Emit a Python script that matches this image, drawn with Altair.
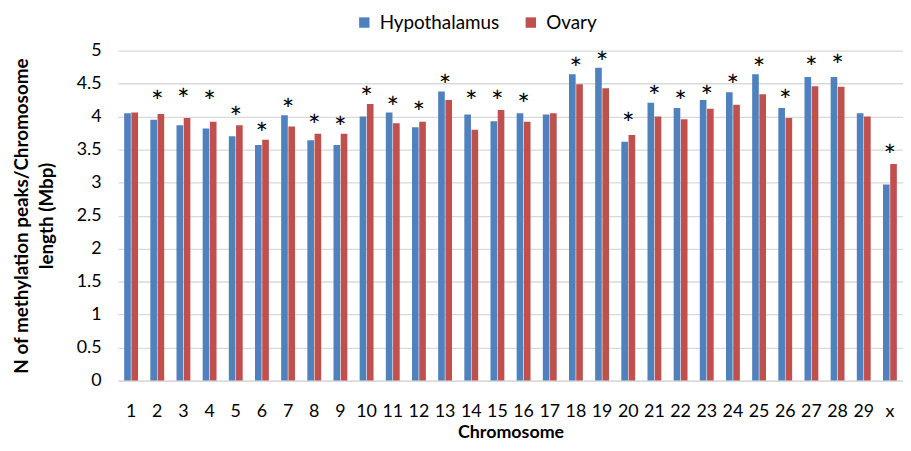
import altair as alt
import pandas as pd

chromosomes = ["1", "2", "3", "4", "5", "6", "7", "8", "9", "10",
               "11", "12", "13", "14", "15", "16", "17", "18", "19", "20",
               "21", "22", "23", "24", "25", "26", "27", "28", "29", "x"]
hypothalamus = [4.05, 3.95, 3.87, 3.82, 3.70, 3.57, 4.02, 3.64, 3.57, 4.00,
                4.06, 3.84, 4.38, 4.03, 3.93, 4.05, 4.03, 4.64, 4.74, 3.62,
                4.21, 4.13, 4.25, 4.37, 4.64, 4.13, 4.60, 4.60, 4.05, 2.97]
ovary = [4.06, 4.04, 3.98, 3.92, 3.87, 3.65, 3.85, 3.74, 3.74, 4.19,
         3.90, 3.92, 4.25, 3.80, 4.10, 3.92, 4.05, 4.49, 4.43, 3.72,
         4.00, 3.96, 4.12, 4.18, 4.34, 3.98, 4.46, 4.45, 4.00, 3.28]
# level (in y units) at which each significance asterisk sits; None = no asterisk
star_level = [None, 4.30, 4.32, 4.30, 4.05, 3.81, 4.17, 3.93, 3.90, 4.35,
              4.20, 4.13, 4.54, 4.29, 4.30, 4.25, None, 4.80, 4.89, 3.96,
              4.37, 4.29, 4.37, 4.53, 4.79, 4.31, 4.81, 4.84, None, 3.48]
tissues = ["Hypothalamus", "Ovary"]
colors = ["#4F81BD", "#C0504D"]
y_ticks = [0, 0.5, 1, 1.5, 2, 2.5, 3, 3.5, 4, 4.5, 5]

rows = []
for c, h, o in zip(chromosomes, hypothalamus, ovary):
    rows.append({"chrom": c, "tissue": "Hypothalamus", "value": h})
    rows.append({"chrom": c, "tissue": "Ovary", "value": o})
bars_df = pd.DataFrame(rows)

star_df = pd.DataFrame({
    "chrom": [c for c, s in zip(chromosomes, star_level) if s is not None],
    "value": [s for s in star_level if s is not None],
    "star": "*",
})

FONT = "Lato"

x_enc = alt.X(
    "chrom:N", sort=chromosomes,
    scale=alt.Scale(paddingInner=0.47, paddingOuter=0.235),
    axis=alt.Axis(title="Chromosome", labelAngle=0, ticks=False,
                  labelPadding=22, titlePadding=3,
                  domainColor="#d9d9d9", domainWidth=1.3,
                  labelFontSize=18, titleFontSize=18, titleFontWeight="bold",
                  labelColor="#000000", titleColor="#000000",
                  labelFont=FONT, titleFont=FONT),
)
y_enc = alt.Y(
    "value:Q", scale=alt.Scale(domain=[0, 5], nice=False),
    axis=alt.Axis(values=y_ticks, format=".1~f",
                  title=["N of methylation peaks/Chromosome", "length (Mbp)"],
                  ticks=False, domain=False, labelPadding=17, titlePadding=20,
                  titleLineHeight=25,
                  gridColor="#d9d9d9", gridWidth=1.3,
                  labelFontSize=18, titleFontSize=19, titleFontWeight="bold",
                  labelColor="#000000", titleColor="#000000",
                  labelFont=FONT, titleFont=FONT),
)

bars = alt.Chart(bars_df).mark_bar().encode(
    x=x_enc,
    xOffset=alt.XOffset("tissue:N", sort=tissues, scale=alt.Scale(paddingInner=0.08)),
    y=y_enc,
    color=alt.Color("tissue:N", sort=tissues,
                    scale=alt.Scale(domain=tissues, range=colors),
                    legend=alt.Legend(orient="none", legendX=239, legendY=-38,
                                      direction="horizontal", title=None,
                                      symbolType="square", symbolSize=110,
                                      symbolStrokeWidth=0,
                                      labelFontSize=19, labelFont=FONT,
                                      labelColor="#000000",
                                      columnPadding=22, labelOffset=6)),
)

stars = alt.Chart(star_df).mark_text(
    fontSize=30, font=FONT, baseline="alphabetic", dy=15, color="#000000"
).encode(
    x=x_enc,
    y=y_enc,
    text="star:N",
)

chart = alt.layer(bars, stars).properties(
    width=792, height=333,
    autosize=alt.AutoSizeParams(type="none"),
    padding={"left": 111, "top": 41, "right": 0, "bottom": 60},
).configure_view(stroke=None)

chart.save("out.html", embed_options={"renderer": "svg", "actions": False})
